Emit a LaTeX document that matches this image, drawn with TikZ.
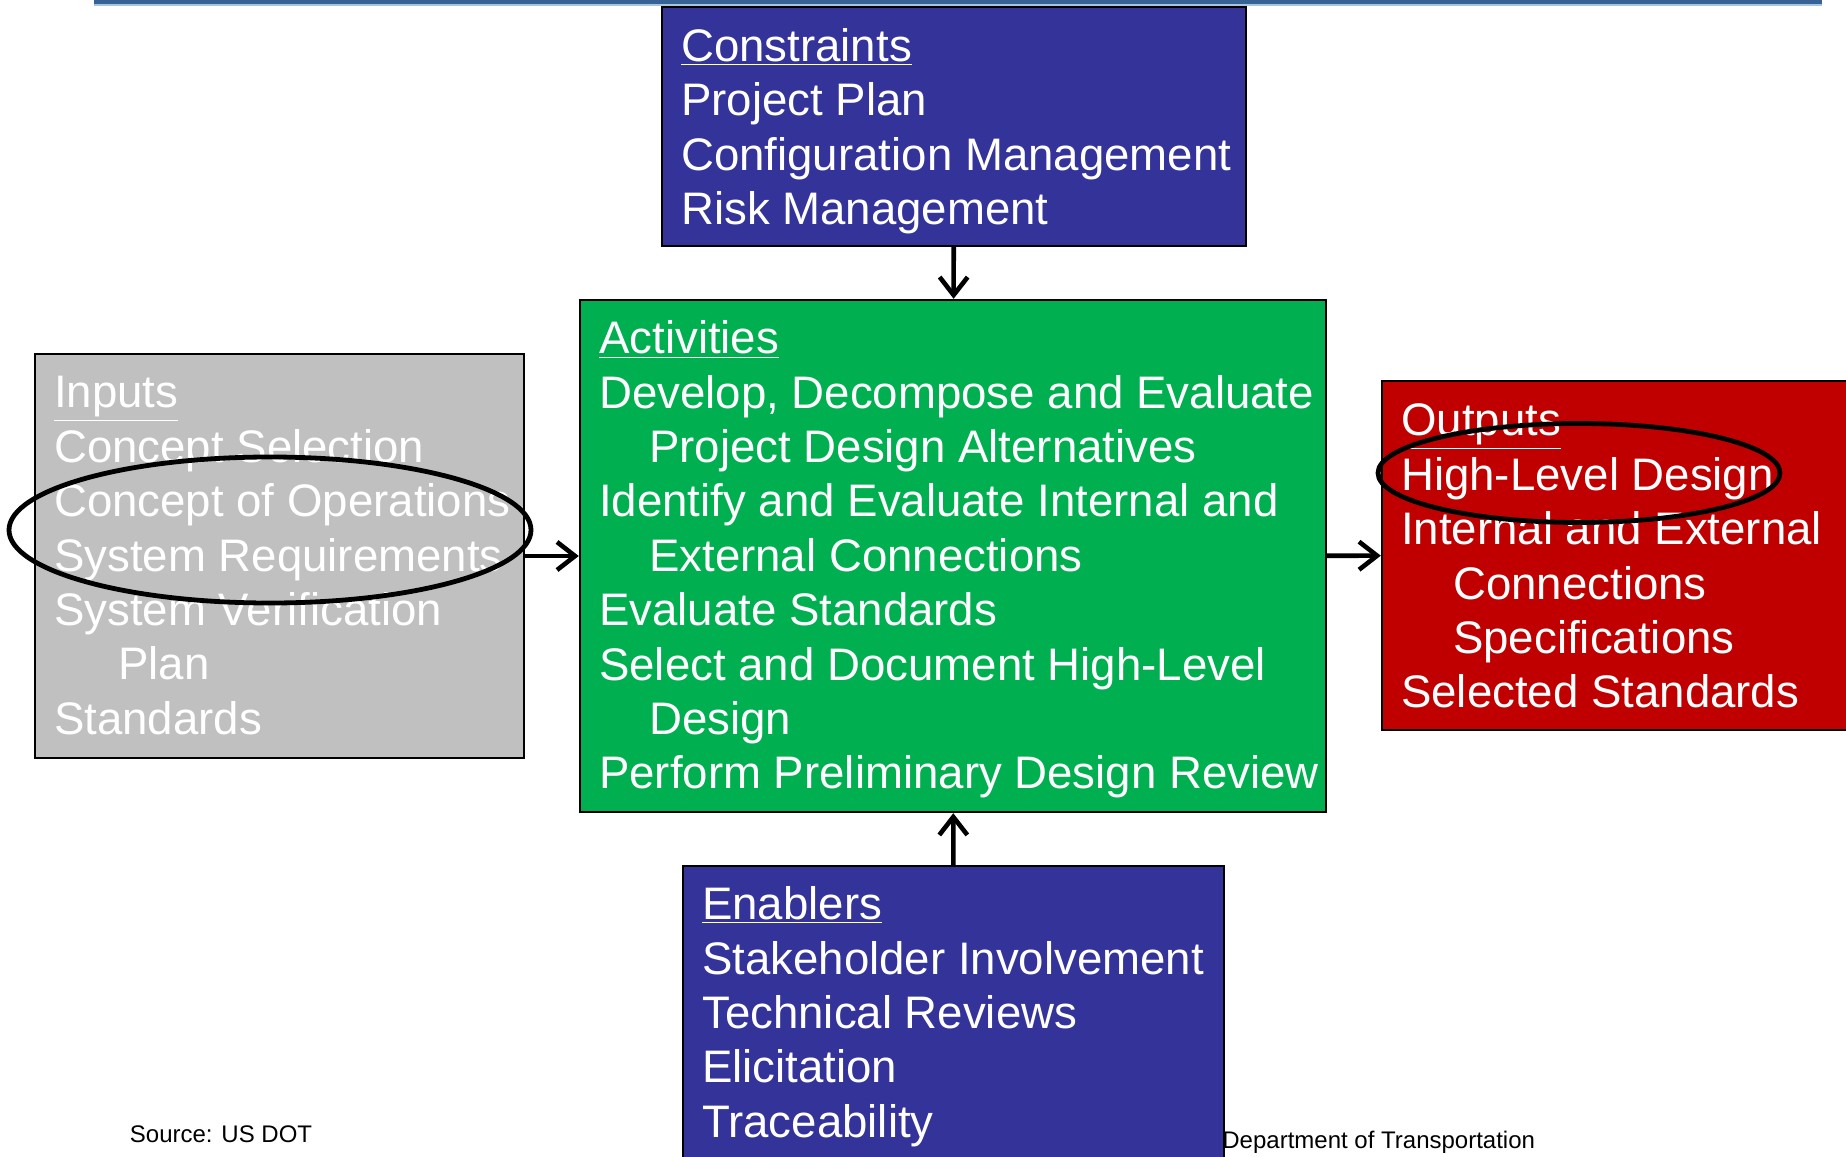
\documentclass[tikz,border=0pt]{standalone}
\usepackage{fontspec}
\setmainfont{Liberation Sans}
\usetikzlibrary{arrows.meta,shapes.geometric}

\definecolor{constraintblue}{RGB}{51,51,153}
\definecolor{activitygreen}{RGB}{0,176,80}
\definecolor{inputgray}{RGB}{192,192,192}
\definecolor{outputred}{RGB}{192,0,0}
\definecolor{ruleblue}{RGB}{54,98,150}
\definecolor{ruleshade}{RGB}{170,196,224}

\begin{document}
\begin{tikzpicture}[x=0.5pt,y=-0.5pt,>={Straight Barb[length=9pt,width=14pt]},
  box node/.style={draw=black,line width=1.2pt,inner sep=0pt},
  text node/.style={anchor=west,align=left,inner sep=0pt,text=white,
    font=\fontsize{22.8}{27.2}\selectfont},
  ring node/.style={ellipse,draw=black,line width=2.4pt,inner sep=0pt},
  note node/.style={anchor=west,inner sep=0pt,font=\fontsize{12}{14}\selectfont}]

  \useasboundingbox (0,0) rectangle (1846,1156);
  \fill[white] (0,0) rectangle (1846,1156);

  % rule at the top
  \draw[ruleshade,line width=1pt] (94,5) -- (1822,5);
  \draw[ruleblue,line width=1.6pt] (94,2) -- (1822,2);

  % boxes
  \node[box node,fill=constraintblue,minimum width=292pt,minimum height=119.5pt] (constraints) at (954,126.5) {};
  \node[box node,fill=activitygreen,minimum width=373pt,minimum height=256pt] (activities) at (953,556) {};
  \node[box node,fill=inputgray,minimum width=244.5pt,minimum height=202pt] (inputs) at (279.5,556) {};
  \node[box node,fill=outputred,minimum width=233pt,minimum height=174.5pt] (outputs) at (1615,555.5) {};
  \node[box node,fill=constraintblue,minimum width=270.5pt,minimum height=147pt] (enablers) at (953.5,1013) {};

  % texts
  \node[text node] (constraints text) at ([xshift=10pt,yshift=-2.3pt]constraints.west)
    {\underline{Constraints}\\Project Plan\\Configuration Management\\Risk Management};
  \node[text node] (activities text) at ([xshift=10pt,yshift=-1.8pt]activities.west)
    {\underline{Activities}\\
     Develop, Decompose and Evaluate\\
     \hspace*{25pt}Project Design Alternatives\\
     Identify and Evaluate Internal and\\
     \hspace*{25pt}External Connections\\
     Evaluate Standards\\
     Select and Document High-Level\\
     \hspace*{25pt}Design\\
     Perform Preliminary Design Review};
  \node[text node] (inputs text) at ([xshift=10pt,yshift=0.2pt]inputs.west)
    {\underline{Inputs}\\Concept Selection\\Concept of Operations\\System Requirements\\
     System Verification\\\hspace*{32pt}Plan\\Standards};
  \node[text node] (outputs text) at ([xshift=10pt,yshift=-0.3pt]outputs.west)
    {\underline{Outputs}\\High-Level Design\\Internal and External\\
     \hspace*{26pt}Connections\\\hspace*{26pt}Specifications\\Selected Standards};
  \node[text node] (enablers text) at ([xshift=10pt,yshift=-1.8pt]enablers.west)
    {\underline{Enablers}\\Stakeholder Involvement\\Technical Reviews\\Elicitation\\Traceability};

  \node[note node] (source) at (129.5,1134) {Source: US DOT};
  \node[note node] (department) at (1222,1142) {Department of Transportation};

  % arrows
  \path[->,line width=2.3pt]
    (constraints) edge (activities)
    (enablers) edge (activities)
    (inputs) edge (activities)
    (activities) edge (outputs);

  % rings
  \node[ring node,minimum width=261pt,minimum height=73pt] (inputs ring) at (270,530) {};
  \node[ring node,minimum width=201pt,minimum height=49.5pt] (outputs ring) at (1579,473) {};

\end{tikzpicture}
\end{document}
